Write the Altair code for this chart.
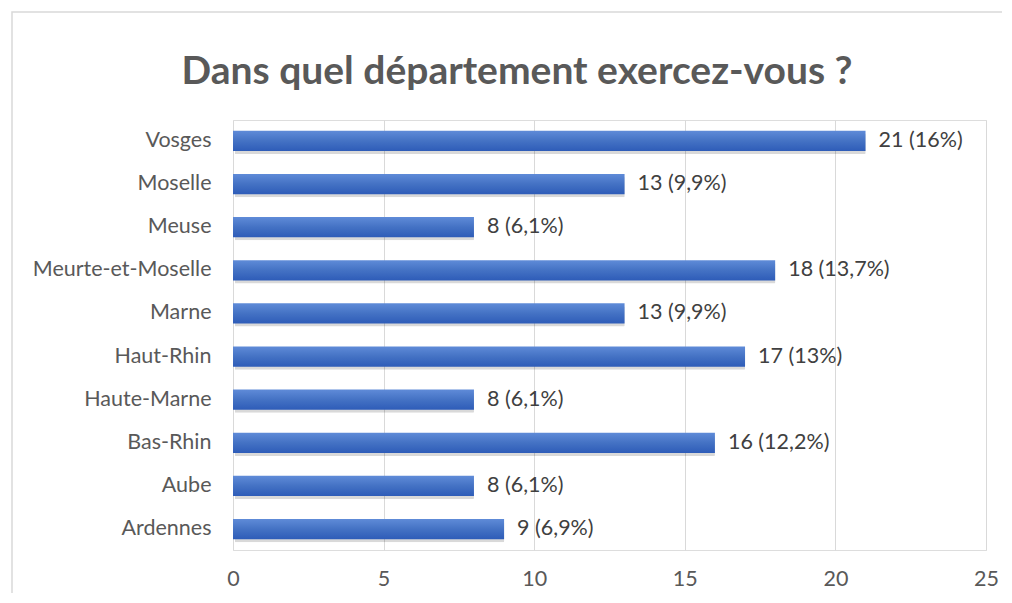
import altair as alt
import pandas as pd

departements = ["Vosges", "Moselle", "Meuse", "Meurte-et-Moselle", "Marne",
                "Haut-Rhin", "Haute-Marne", "Bas-Rhin", "Aube", "Ardennes"]
effectifs = [21, 13, 8, 18, 13, 17, 8, 16, 8, 9]
pourcentages = ["16%", "9,9%", "6,1%", "13,7%", "9,9%", "13%", "6,1%", "12,2%", "6,1%", "6,9%"]
x_ticks = [0, 5, 10, 15, 20, 25]
titre = "Dans quel département exercez-vous ?"

df = pd.DataFrame({
    "dep": departements,
    "n": effectifs,
    "label": [f"{n} ({p})" for n, p in zip(effectifs, pourcentages)],
})

FONT = "Lato"
GRAY = "#595959"
FS = 21.5

y_enc = alt.Y("dep:N", sort=departements, title=None,
              scale=alt.Scale(paddingInner=0.53, paddingOuter=0.25),
              axis=alt.Axis(labelFontSize=FS, labelColor=GRAY, labelFont=FONT,
                            ticks=False, domain=False, labelPadding=22, grid=False))
x_enc = alt.X("n:Q", title=None,
              scale=alt.Scale(domain=[0, 25], nice=False),
              axis=alt.Axis(values=x_ticks, labelFontSize=FS, labelColor=GRAY, labelFont=FONT,
                            ticks=False, domain=False, labelPadding=18, labelFlush=False,
                            grid=True, gridColor="#d9d9d9", gridWidth=1))

base = alt.Chart(df)

border = base.mark_rect(fill=None, stroke="#d9d9d9", strokeWidth=1.5, clip=False).encode(
    x=alt.value(-221), x2=alt.value(1000), y=alt.value(-108), y2=alt.value(700)
).transform_filter("datum.dep == 'Vosges'")

title_mark = base.mark_text(fontSize=39, font=FONT, fontWeight="bold", color=GRAY,
                            align="center", baseline="middle").encode(
    x=alt.value(284), y=alt.value(-48), text=alt.value(titre)
).transform_filter("datum.dep == 'Vosges'")

shadow = base.mark_bar(color="#000000", opacity=0.15, xOffset=2, yOffset=3,
                       cornerRadius=1).encode(x=x_enc, y=y_enc)

bars = base.mark_bar(
    color=alt.Gradient(
        gradient="linear",
        stops=[alt.GradientStop(color="#5f8bd8", offset=0),
               alt.GradientStop(color="#4472c4", offset=0.5),
               alt.GradientStop(color="#2e5cb8", offset=1)],
        x1=0, x2=0, y1=0, y2=1)
).encode(x=x_enc, y=y_enc)

labels = base.mark_text(align="left", baseline="middle", dx=13, fontSize=FS,
                        font=FONT, color="#404040").encode(
    x=x_enc, y=y_enc, text="label:N")

chart = alt.layer(border, title_mark, shadow, bars, labels).properties(
    width=753, height=430,
    autosize=alt.AutoSizeParams(type="none"),
    padding={"left": 225, "top": 112, "right": 16, "bottom": 43},
).configure_view(stroke=None).configure(background="white")

chart.save("out.html", embed_options={"renderer": "svg", "actions": False})
